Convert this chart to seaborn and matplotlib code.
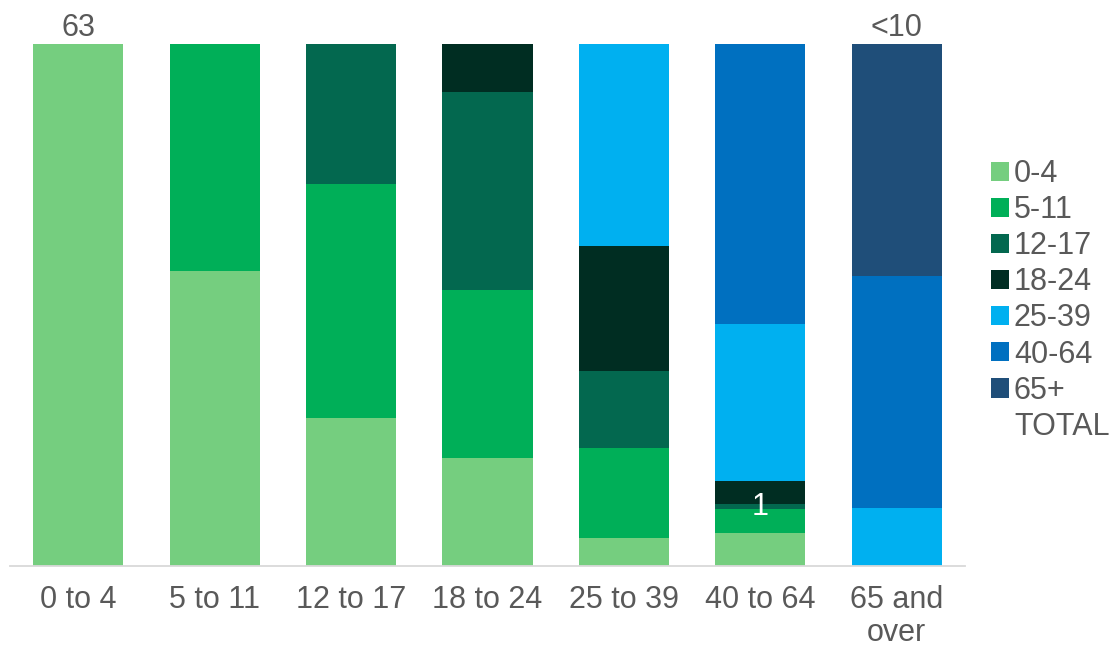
import numpy as np
import pandas as pd
import matplotlib
matplotlib.use("Agg")
import matplotlib.pyplot as plt
from matplotlib.patches import Patch
import seaborn as sns

# Age group of the index person (x axis)
groups = ["0 to 4", "5 to 11", "12 to 17", "18 to 24", "25 to 39", "40 to 64", "65 and\nover"]

# Age band of contacts (stacked series), bottom to top
series = ["0-4", "5-11", "12-17", "18-24", "25-39", "40-64", "65+"]
colors = ["#75CE7F", "#00AF58", "#03684F", "#002D22", "#00B0F0", "#0070C0", "#1F4E79"]

# Counts for each series, one value per x-axis group
band_0_4 = [63, 13, 19, 18, 4, 7, 0]
band_5_11 = [0, 10, 30, 28, 13, 5, 0]
band_12_17 = [0, 0, 18, 33, 11, 1, 0]
band_18_24 = [0, 0, 0, 8, 18, 5, 0]
band_25_39 = [0, 0, 0, 0, 29, 33, 1]
band_40_64 = [0, 0, 0, 0, 0, 59, 4]
band_65_plus = [0, 0, 0, 0, 0, 0, 4]

# Bars whose TOTAL is printed above them
total_label_bars = [0, 6]
# (series index, group index) of segments carrying a value label
segment_labels = [(2, 5)]

TEXT = "#595959"

sns.set_theme(style="white")
plt.rcParams["font.family"] = ["Liberation Sans", "DejaVu Sans"]

counts = np.array([band_0_4, band_5_11, band_12_17, band_18_24,
                   band_25_39, band_40_64, band_65_plus], dtype=float)
totals = counts.sum(axis=0)
shares = counts / totals
cum = shares.cumsum(axis=0)

rows = []
for k, s in enumerate(series):
    for j, g in enumerate(groups):
        rows.append({"group": g, "series": s, "share": shares[k, j],
                     "top": cum[k, j]})
df = pd.DataFrame(rows)

fig = plt.figure(figsize=(11.2, 6.48), dpi=100)
ax = fig.add_axes([10 / 1120, 82 / 648, 955 / 1120, 522 / 648])

# 100% stacked bars: draw cumulative tops from the last series down
for k in reversed(range(len(series))):
    sub = df[df["series"] == series[k]]
    sns.barplot(data=sub, x="group", y="top", order=groups, color=colors[k],
                saturation=1, width=0.66, linewidth=0, errorbar=None, ax=ax)

ax.set_xlim(-0.5, len(groups) - 0.5)
ax.set_ylim(0, 1)
ax.set_xlabel("")
ax.set_ylabel("")
ax.set_yticks([])
for side in ["left", "right", "top"]:
    ax.spines[side].set_visible(False)
ax.spines["bottom"].set_color("#D9D9D9")
ax.spines["bottom"].set_linewidth(1.3)
ax.tick_params(axis="x", length=0, pad=14, labelsize=22, labelcolor=TEXT)
for lbl in ax.get_xticklabels():
    lbl.set_linespacing(1.1)

# TOTAL labels above bars
for j in total_label_bars:
    t = int(totals[j])
    txt = str(t) if t >= 10 else "<10"
    ax.annotate(txt, xy=(j, 1.0), xytext=(0, 1), textcoords="offset points",
                ha="center", va="bottom", fontsize=22, color=TEXT,
                annotation_clip=False)

# value labels inside segments
for k, j in segment_labels:
    y = cum[k, j] - shares[k, j] / 2
    ax.text(j, y, str(int(counts[k, j])), ha="center", va="center",
            fontsize=22, color="white")

handles = [Patch(facecolor=c, edgecolor="none", label=s)
           for s, c in zip(series, colors)]
handles.append(Patch(facecolor="none", edgecolor="none", label="TOTAL"))
fig.legend(handles=handles, loc="upper left",
           bbox_to_anchor=(991 / 1120, 1 - 159 / 648),
           frameon=False, fontsize=22, labelcolor=TEXT,
           handlelength=0.6, handleheight=0.6, handletextpad=0.15,
           labelspacing=0.2, borderpad=0, borderaxespad=0)

fig.savefig("out.png", dpi=100)
